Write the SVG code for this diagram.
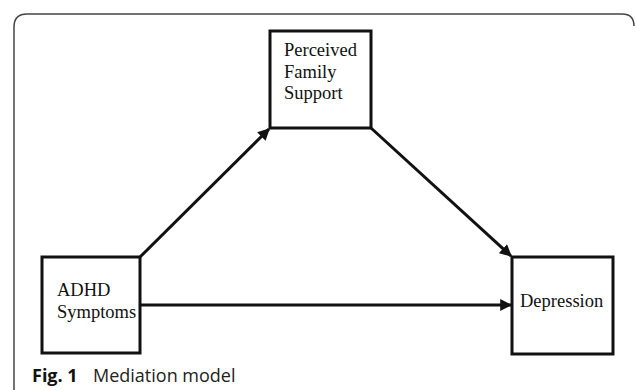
<svg xmlns="http://www.w3.org/2000/svg" width="636" height="390" viewBox="0 0 636 390">
<style>
.box{fill:#fff;stroke:#111;stroke-width:3}
.lbl{font-family:"Liberation Serif","Times New Roman",serif;font-size:18.5px;fill:#111}
.con{stroke:#111;stroke-width:3;fill:none}
.cap{font-family:"Open Sans","Noto Sans",sans-serif;font-size:18px;fill:#222}
</style>
<defs>
<marker id="ah" viewBox="0 0 10 10" refX="9" refY="5" markerWidth="4.2" markerHeight="4" orient="auto" markerUnits="strokeWidth">
<path d="M0,0 L10,5 L0,10 z" fill="#111"/>
</marker>
</defs>
<rect width="636" height="390" fill="#fff"/>
<path d="M14,390 V27 Q14,14 27,14 H622 Q634,14 634,26" fill="none" stroke="#444" stroke-width="1.5"/>
<g id="connectors">
<line class="con" x1="140" y1="257" x2="269" y2="129" marker-end="url(#ah)"/>
<line class="con" x1="371" y1="128" x2="511" y2="256" marker-end="url(#ah)"/>
<line class="con" x1="140" y1="305" x2="511" y2="305" marker-end="url(#ah)"/>
</g>
<g id="perceived">
<rect class="box" x="270" y="31" width="101" height="97"/>
<text class="lbl" x="284" y="56">Perceived</text>
<text class="lbl" x="284" y="78">Family</text>
<text class="lbl" x="284" y="99">Support</text>
</g>
<g id="adhd">
<rect class="box" x="42" y="257" width="98" height="96"/>
<text class="lbl" x="57" y="296">ADHD</text>
<text class="lbl" x="57" y="318">Symptoms</text>
</g>
<g id="depression">
<rect class="box" x="512" y="257" width="101" height="97"/>
<text class="lbl" x="520" y="307">Depression</text>
</g>
<text class="cap" x="32" y="382"><tspan font-weight="bold" fill="#111">Fig. 1</tspan><tspan x="93">Mediation model</tspan></text>
</svg>
